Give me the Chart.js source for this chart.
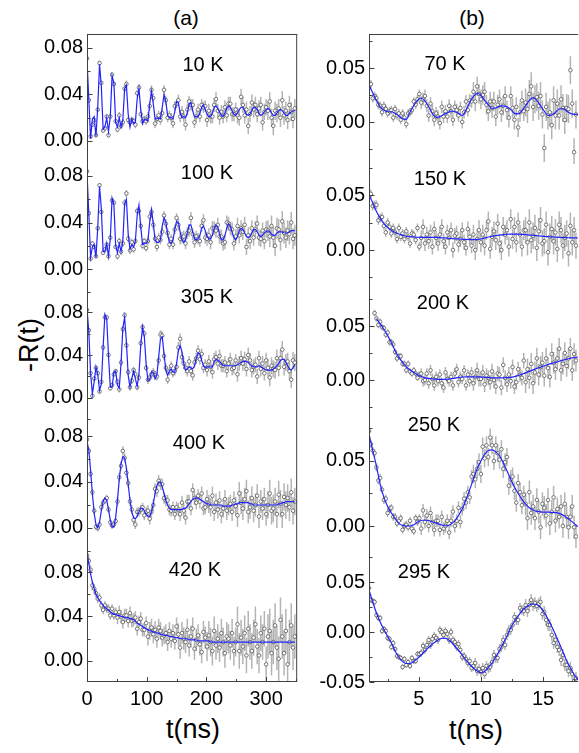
<!DOCTYPE html>
<html>
<head>
<meta charset="utf-8">
<title>-R(t)</title>
<script src="https://cdn.jsdelivr.net/npm/chart.js@4.4.1/dist/chart.umd.min.js"></script>
<style>
  html, body { margin: 0; padding: 0; background: #fff; }
  body { position: relative; width: 579px; height: 753px; overflow: hidden; font-family: "Liberation Sans", Arial, sans-serif; }
  canvas { position: absolute; }
  .t { position: absolute; transform: translate(-50%, -50%); white-space: nowrap; line-height: 1; color: #000; }
</style>
</head>
<body>
<div class="t" style="left:186px;top:17px;font-size:21px">(a)</div>
<div class="t" style="left:472px;top:17px;font-size:21px">(b)</div>
<div class="t" style="left:29px;top:345px;font-size:27px;transform:translate(-50%,-50%) rotate(-90deg)">-R(t)</div>
<div class="t" style="left:193px;top:729px;font-size:27px">t(ns)</div>
<div class="t" style="left:476px;top:730px;font-size:27px">t(ns)</div>

<script>
// time grids (ns)
var tA = Array.from({length: 117}, function(_, i) { return i * 3 })          // column (a)
var tB = Array.from({length: 112}, function(_, i) { return 1 + i * 0.15 })   // column (b) points
var tBfit = Array.from({length: 57}, function(_, i) { return 1 + i * 0.3 })  // column (b) fits

// ---- column (a): measured -R(t) and fits ----
var r10K = [.071,.035,.004,.014,.018,.005,.027,.067,.05,.009,
  .011,.021,.005,.021,.057,.049,.017,.01,.022,.013,
  .016,.045,.049,.018,.016,.018,.017,.014,.041,.046,
  .023,.017,.019,.017,.021,.03,.044,.037,.015,.019,
  .022,.018,.024,.044,.035,.02,.022,.02,.015,.03,
  .032,.035,.021,.025,.021,.014,.027,.034,.031,.031,
  .016,.021,.027,.021,.031,.029,.03,.018,.026,.021,
  .021,.031,.036,.026,.02,.025,.021,.029,.022,.032,
  .032,.023,.023,.027,.022,.02,.038,.031,.022,.027,
  .013,.023,.033,.027,.031,.023,.028,.031,.016,.025,
  .029,.026,.034,.02,.013,.026,.024,.028,.02,.035,
  .022,.026,.018,.031,.025,.019,.028]
var fit10K = [.07,.036,.002,.019,.021,.004,.029,.066,.047,.01,
  .012,.02,.008,.021,.056,.05,.016,.012,.02,.012,
  .018,.045,.048,.023,.012,.019,.015,.016,.036,.045,
  .027,.015,.019,.018,.017,.032,.043,.032,.019,.019,
  .02,.019,.029,.04,.034,.022,.02,.02,.019,.025,
  .034,.033,.024,.02,.021,.02,.024,.032,.033,.026,
  .021,.021,.021,.024,.029,.031,.027,.023,.021,.021,
  .024,.029,.03,.028,.025,.022,.021,.024,.028,.03,
  .029,.026,.023,.022,.024,.027,.029,.029,.026,.023,
  .022,.023,.026,.029,.029,.027,.024,.022,.023,.025,
  .027,.028,.027,.024,.022,.022,.024,.026,.027,.026,
  .024,.022,.022,.024,.025,.026,.026]
var err10K = [.002,.003,.004,.005,.006,.007,.008]

var r100K = [.084,.048,.009,.022,.019,.011,.035,.072,.049,.014,
  .017,.021,.011,.027,.059,.057,.019,.011,.024,.015,
  .022,.057,.065,.026,.016,.023,.017,.024,.05,.05,
  .037,.02,.024,.018,.024,.045,.049,.038,.026,.019,
  .027,.025,.032,.046,.039,.031,.021,.026,.021,.034,
  .044,.038,.026,.027,.028,.022,.031,.033,.044,.03,
  .023,.028,.026,.024,.037,.042,.027,.026,.029,.023,
  .035,.035,.033,.038,.028,.028,.022,.023,.04,.039,
  .035,.034,.022,.028,.037,.029,.035,.032,.038,.019,
  .029,.024,.035,.027,.034,.039,.027,.026,.033,.024,
  .034,.033,.028,.037,.027,.02,.035,.034,.025,.041,
  .031,.027,.033,.03,.04,.026,.029]
var fit100K = [.083,.048,.01,.019,.021,.01,.036,.071,.052,.015,
  .015,.022,.011,.026,.061,.056,.02,.014,.022,.015,
  .024,.056,.06,.03,.017,.021,.019,.024,.046,.055,
  .036,.021,.022,.022,.024,.04,.051,.039,.025,.023,
  .023,.025,.037,.044,.04,.03,.023,.022,.025,.034,
  .041,.04,.032,.025,.023,.025,.031,.038,.038,.032,
  .026,.025,.026,.029,.035,.037,.033,.028,.026,.026,
  .029,.035,.038,.036,.03,.025,.025,.029,.035,.039,
  .037,.032,.027,.025,.028,.033,.035,.034,.031,.028,
  .027,.028,.031,.034,.034,.032,.029,.028,.029,.031,
  .032,.033,.032,.03,.029,.029,.031,.032,.032,.032,
  .031,.031,.031,.032,.033,.033,.033]
var err100K = [.002,.003,.004,.005,.006,.007,.009]

var r305K = [.082,.063,.023,.002,.018,.028,.023,.006,.015,.047,
  .075,.075,.04,.009,.012,.022,.025,.015,.008,.033,
  .064,.077,.049,.024,.01,.016,.026,.022,.01,.019,
  .051,.066,.06,.028,.017,.019,.022,.024,.021,.02,
  .035,.059,.058,.039,.028,.017,.025,.03,.023,.025,
  .029,.047,.055,.038,.032,.028,.025,.034,.025,.021,
  .033,.037,.044,.036,.041,.028,.031,.026,.034,.029,
  .024,.036,.038,.032,.039,.03,.03,.033,.025,.032,
  .036,.027,.028,.035,.022,.032,.037,.032,.036,.027,
  .04,.035,.026,.029,.031,.02,.037,.027,.032,.023,
  .035,.028,.019,.03,.027,.026,.037,.028,.037,.045,
  .029,.033,.034,.025,.017,.035,.033]
var fit305K = [.083,.062,.023,.004,.015,.029,.022,.007,.013,.047,
  .078,.074,.039,.01,.01,.024,.025,.012,.009,.032,
  .065,.075,.052,.021,.01,.018,.025,.018,.011,.022,
  .049,.066,.057,.032,.016,.017,.024,.024,.018,.021,
  .038,.055,.057,.041,.026,.021,.025,.027,.024,.024,
  .032,.044,.049,.043,.032,.026,.027,.029,.028,.027,
  .03,.037,.042,.041,.035,.03,.028,.029,.029,.029,
  .029,.034,.036,.035,.034,.032,.03,.03,.03,.03,
  .03,.03,.03,.03,.031,.032,.033,.034,.034,.034,
  .033,.031,.03,.029,.029,.029,.03,.029,.028,.027,
  .026,.026,.026,.026,.027,.028,.03,.032,.035,.036,
  .036,.033,.03,.027,.026,.028,.031]
var err305K = [.002,.003,.004,.005,.006,.007,.008]

var r400K = [.077,.067,.047,.031,.015,.001,0,.003,.018,.022,
  .024,.026,.016,.005,.002,.003,.006,.023,.044,.054,
  .067,.061,.048,.039,.023,.016,.007,.003,.014,.014,
  .016,.018,.011,.014,.015,.008,.014,.02,.034,.032,
  .041,.038,.038,.026,.024,.024,.016,.015,.018,.012,
  .018,.016,.012,.022,.015,.009,.023,.023,.017,.033,
  .026,.022,.028,.023,.03,.017,.018,.025,.021,.018,
  .028,.014,.022,.016,.024,.012,.017,.025,.015,.019,
  .021,.014,.024,.019,.011,.03,.022,.017,.025,.032,
  .014,.018,.026,.015,.02,.028,.01,.023,.017,.025,
  .012,.02,.03,.015,.017,.023,.012,.029,.021,.012,
  .027,.02,.026,.018,.031,.015,.023]
var fit400K = [.075,.068,.05,.03,.013,.003,0,.005,.015,.023,
  .026,.024,.016,.007,.001,.001,.009,.024,.042,.056,
  .062,.061,.052,.038,.024,.014,.009,.008,.01,.014,
  .017,.017,.015,.012,.01,.01,.014,.021,.03,.037,
  .04,.04,.036,.03,.024,.02,.017,.016,.016,.016,
  .016,.016,.016,.016,.017,.017,.019,.021,.023,.025,
  .026,.026,.026,.025,.024,.023,.022,.021,.021,.02,
  .02,.02,.02,.02,.02,.02,.019,.019,.019,.019,
  .019,.02,.02,.021,.021,.022,.022,.022,.022,.022,
  .022,.021,.021,.02,.02,.02,.02,.02,.02,.02,
  .02,.02,.02,.02,.02,.02,.02,.021,.021,.022,
  .022,.023,.023,.023,.023,.023,.023]
var err400K = [.003,.004,.005,.006,.008,.01,.012]

var r420K = [.095,.09,.082,.068,.065,.061,.056,.057,.05,.046,
  .05,.047,.047,.041,.047,.041,.044,.039,.044,.04,
  .035,.041,.041,.036,.043,.036,.037,.039,.029,.035,
  .038,.028,.028,.034,.022,.027,.03,.024,.028,.02,
  .03,.027,.021,.023,.025,.017,.027,.02,.025,.018,
  .031,.024,.012,.025,.02,.017,.028,.014,.022,.029,
  .011,.019,.023,.015,.008,.026,.021,.013,.023,.017,
  .009,.027,.014,.02,.012,.025,.017,.007,.022,.02,
  .014,.025,.009,.017,.033,.009,.021,.013,.025,.005,
  .029,.017,.009,.021,.033,.013,.005,.025,.017,.029,
  -.003,.022,.027,.007,.017,.032,.012,.002,.037,.022,
  .007,.027,-.003,.017,.032,.012,.022]
var fit420K = [.097,.088,.078,.071,.065,.06,.057,.054,.052,.05,
  .048,.047,.046,.044,.043,.042,.042,.041,.041,.04,
  .04,.039,.039,.039,.038,.038,.037,.036,.034,.033,
  .032,.031,.03,.029,.028,.027,.027,.026,.026,.025,
  .025,.024,.024,.023,.023,.023,.022,.022,.022,.021,
  .021,.021,.02,.02,.02,.02,.02,.019,.019,.019,
  .019,.019,.018,.018,.018,.018,.018,.018,.018,.017,
  .017,.017,.017,.017,.017,.017,.017,.017,.017,.017,
  .017,.017,.017,.017,.017,.017,.017,.017,.017,.017,
  .017,.017,.017,.017,.017,.017,.017,.017,.017,.017,
  .017,.017,.017,.017,.017,.017,.017,.017,.017,.017,
  .017,.017,.017,.017,.017,.017,.017]
var err420K = [.004,.006,.008,.01,.013,.016,.02]

// ---- column (b) ----
var r70K = [.033,.035,.022,.024,.022,.016,.015,.009,.015,.012,
  .008,.01,.011,.004,.012,.006,.008,.002,.008,.004,
  -.002,.008,.009,.011,.019,.016,.021,.026,.018,.021,
  .024,.015,.006,.017,.01,.002,.008,.005,-.001,.014,
  .005,.01,.005,.015,.01,.002,.014,.011,.006,.013,
  0,.009,.019,.011,.02,.019,.028,.019,.033,.026,
  .021,.025,.028,.016,.01,.019,.013,.019,.005,.016,
  .021,.009,.015,.024,.011,.004,.024,.013,.002,.014,
  -.005,.009,.02,.01,.018,.012,.026,.033,.014,.021,
  .023,.015,.024,.007,-.024,.014,.006,.009,-.003,.02,
  .006,.017,.006,.021,.013,.002,.013,.012,.048,.017,
  -.028,.007]
var fit70K = [.034,.027,.02,.014,.011,.0095,.0095,.008,.0055,.003,
  .0025,.009,.015,.02,.022,.0195,.014,.008,.0043,.005,
  .007,.0085,.01,.0095,.008,.006,.011,.018,.0235,.0265,
  .025,.02,.016,.0127,.013,.0145,.015,.014,.0115,.008,
  .0075,.0105,.015,.02,.0225,.02,.015,.01,.006,.0065,
  .009,.012,.0125,.01,.008,.007,.007]
var err70K = [.004,.006,.009,.013]

var r150K = [.048,.051,.04,.041,.041,.027,.029,.03,.022,.016,
  .025,.021,.015,.02,.016,.01,.02,.012,.015,.01,
  .017,.012,.006,.015,.014,.009,.02,.003,.011,.021,
  .006,.014,.008,.016,.003,.019,.011,.006,.014,.021,
  .008,.003,.016,.011,.018,0,.013,.015,.005,.01,
  .018,.007,.002,.019,.012,.004,.014,0,.01,.018,
  .007,.014,.004,.018,.026,.001,.012,.017,.009,.024,
  .006,0,.021,.014,.018,.003,.028,.01,.021,.007,
  .025,.014,.003,.018,.018,.007,.025,.009,.013,.02,
  .002,.017,.027,.006,.008,.023,-.002,.012,.019,.008,
  .016,.001,.023,.018,.004,.011,.015,-.003,.022,.007,
  .018,.004]
var fit150K = [.05,.043,.035,.029,.024,.0205,.018,.016,.0145,.0135,
  .0125,.012,.0118,.0116,.0115,.0115,.0115,.0115,.0114,.0112,
  .011,.0108,.0105,.0102,.01,.0098,.0096,.0095,.0095,.0096,
  .01,.0108,.0118,.0125,.013,.0135,.014,.0143,.0145,.0145,
  .0144,.0142,.014,.0136,.0133,.013,.0127,.0124,.0121,.0119,
  .0117,.0115,.0113,.0112,.0111,.011,.011]
var err150K = [.004,.007,.009,.012]

var r200K = [null,null,null,.062,.057,.051,.054,.049,.048,.042,
  .044,.035,.035,.033,.026,.02,.022,.022,.015,.015,
  .009,.015,.008,.006,.009,.006,.002,.005,.006,-.001,
  0,.006,-.003,.009,.001,-.005,.003,-.001,.005,-.003,
  -.007,.007,.001,-.001,.003,-.005,.006,.01,-.002,.003,
  .001,.009,-.005,.005,-.001,.007,-.003,.003,.009,.001,
  .001,.007,-.004,.004,.002,-.002,.008,0,-.006,.006,
  .005,-.007,.014,.002,-.004,.005,-.001,.012,-.006,-.002,
  .01,.005,.002,.018,-.002,.01,.002,.015,-.003,.007,
  .02,.005,.012,.016,.004,.02,.011,.003,.024,.016,
  .01,.02,.029,.009,.015,.025,.013,.02,.029,.009,
  .024,.018]
var fit200K = [null,null,.057,.052,.047,.041,.035,.027,.021,.0165,
  .0123,.0093,.007,.005,.0032,.002,.0015,.0011,.0008,.0006,
  .0006,.0008,.0012,.0018,.0024,.0028,.003,.003,.003,.003,
  .0028,.0025,.0022,.002,.002,.002,.002,.0022,.0025,.0032,
  .0042,.0054,.0066,.008,.0094,.0108,.012,.0132,.0143,.0154,
  .0164,.0174,.0184,.0194,.0202,.0208,.0212]
var err200K = [.003,.005,.007,.01]

var r250K = [.073,.063,.058,.056,.045,.035,.037,.028,.02,.021,
  .01,.013,.014,.007,.007,.002,.004,.006,-.003,0,
  .001,-.001,.004,-.002,-.004,.006,.003,.006,-.002,.012,
  .003,.008,0,.01,.003,-.003,.004,.004,-.003,.007,
  -.002,0,.004,-.005,.004,.011,0,.004,.014,.003,
  .013,.021,.018,.026,.022,.038,.04,.036,.044,.049,
  .04,.061,.052,.062,.053,.068,.062,.05,.062,.056,
  .051,.059,.044,.049,.053,.031,.036,.038,.027,.018,
  .033,.026,.016,.024,.017,.006,.026,.01,.015,.006,
  .02,.011,-.001,.017,.014,.008,.02,.002,.011,.022,
  .004,.013,.007,.015,0,.017,.007,-.001,.007,.015,
  -.001,-.008]
var fit250K = [.071,.058,.046,.032,.022,.015,.01,.006,.002,.0005,
  0,0,.001,.0028,.0042,.0046,.0042,.0032,.0022,.0012,
  .0004,.0002,.0015,.004,.008,.013,.02,.028,.036,.044,
  .05,.055,.058,.0585,.057,.054,.0485,.0425,.036,.03,
  .025,.0205,.0168,.014,.0123,.0113,.0108,.0106,.0106,.0105,
  .0103,.0097,.0085,.0065,.0043,.002,-.0005]
var err250K = [.003,.005,.007,.009]

var r295K = [.044,.032,.031,.03,.017,.014,.014,.001,.003,.001,
  -.006,-.007,-.015,-.011,-.017,-.024,-.025,-.026,-.035,-.027,
  -.033,-.03,-.034,-.026,-.029,-.029,-.022,-.022,-.021,-.014,
  -.018,-.013,-.008,-.013,-.007,-.004,-.006,-.008,.002,0,
  -.003,.001,-.002,-.008,0,-.008,-.01,-.015,-.012,-.018,
  -.025,-.024,-.027,-.031,-.029,-.036,-.034,-.031,-.039,-.037,
  -.04,-.036,-.042,-.034,-.036,-.035,-.03,-.023,-.026,-.026,
  -.017,-.015,-.008,-.013,-.003,.002,.002,.007,.015,.012,
  .012,.024,.022,.021,.027,.021,.027,.032,.027,.029,
  .026,.028,.03,.018,.02,.012,.007,.007,-.003,-.011,
  -.008,-.015,-.018,-.028,-.023,-.033,-.033,-.039,-.036,-.042,
  -.049,-.046]
var fit295K = [.042,.03,.019,.01,.0025,-.0045,-.011,-.019,-.025,-.0295,
  -.0315,-.0315,-.0295,-.0265,-.023,-.019,-.0155,-.012,-.0095,-.007,
  -.0062,-.007,-.01,-.014,-.0185,-.023,-.028,-.0325,-.036,-.039,
  -.0405,-.0395,-.0355,-.031,-.025,-.0185,-.0115,-.004,.004,.0105,
  .016,.021,.0245,.027,.028,.0275,.0245,.0195,.013,.0055,
  -.0025,-.011,-.02,-.0285,-.036,-.0425,-.048]
var err295K = [.003,.004,.005,.006]

// ---- layout ----
var FONT = '"Liberation Sans", Arial, sans-serif'
var BLUE = '#2222ff'
var PAD = 20
var AREA_TOP = [34, 164, 293, 423, 552]
var AREA_BOTTOM = 682

var colA = { left: 0, axisW: 87, right: 300, xMin: 0, xMax: 352,
  xMajor: [0, 100, 200, 300], xMinor: [50, 150, 250, 350], smooth: false, rightBorder: true }
var colB = { left: 282, axisW: 87, right: 581, xMin: 1, xMax: 17.83,
  xMajor: [5, 10, 15], xMinor: [2.5, 7.5, 12.5, 17.5], smooth: true, rightBorder: false }

var majA = [0, 0.04, 0.08], minA = [-0.02, 0.02, 0.06]
var majB = [0, 0.05], minB = [-0.025, 0.025, 0.075]

var panelsA = [
  { label: '10 K', lx: 203, ly: 64, t: tA, r: r10K, ft: tA, fit: fit10K, err: err10K, yMin: -0.0198, yMax: 0.092 },
  { label: '100 K', lx: 207, ly: 172, t: tA, r: r100K, ft: tA, fit: fit100K, err: err100K, yMin: -0.0206, yMax: 0.0903 },
  { label: '305 K', lx: 207, ly: 296, t: tA, r: r305K, ft: tA, fit: fit305K, err: err305K, yMin: -0.0233, yMax: 0.0977 },
  { label: '400 K', lx: 199, ly: 442, t: tA, r: r400K, ft: tA, fit: fit400K, err: err400K, yMin: -0.0209, yMax: 0.0913 },
  { label: '420 K', lx: 195, ly: 569, t: tA, r: r420K, ft: tA, fit: fit420K, err: err420K, yMin: -0.0189, yMax: 0.098 }
]
var panelsB = [
  { label: '70 K', lx: 445, ly: 63, t: tB, r: r70K, ft: tBfit, fit: fit70K, err: err70K, yMin: -0.0389, yMax: 0.0815 },
  { label: '150 K', lx: 440, ly: 178, t: tB, r: r150K, ft: tBfit, fit: fit150K, err: err150K, yMin: -0.0391, yMax: 0.0782 },
  { label: '200 K', lx: 443, ly: 302, t: tB, r: r200K, ft: tBfit, fit: fit200K, err: err200K, yMin: -0.0398, yMax: 0.0806 },
  { label: '250 K', lx: 434, ly: 424, t: tB, r: r250K, ft: tBfit, fit: fit250K, err: err250K, yMin: -0.02, yMax: 0.0792 },
  { label: '295 K', lx: 424, ly: 571, t: tB, r: r295K, ft: tBfit, fit: fit295K, err: err295K, yMin: -0.05, yMax: 0.08, yMajor: [-0.05, 0, 0.05] }
]

// error bars under the points, frame and inward ticks on top
function framePlugin(cfg) {
  return {
    id: 'frame',
    beforeDatasetsDraw: function(chart) {
      var ctx = chart.ctx, a = chart.chartArea, x = chart.scales.x, y = chart.scales.y
      ctx.save()
      ctx.beginPath()
      ctx.rect(a.left, a.top, a.right - a.left, a.bottom - a.top)
      ctx.clip()
      ctx.strokeStyle = '#b4b4b4'
      ctx.lineWidth = 1.5
      ctx.beginPath()
      cfg.t.forEach(function(t, i) {
        var v = cfg.r[i]
        if (v === null) return
        var e = cfg.err[Math.min(cfg.err.length - 1, Math.floor(i * cfg.err.length / cfg.t.length))]
        var px = x.getPixelForValue(t)
        ctx.moveTo(px, y.getPixelForValue(v + e))
        ctx.lineTo(px, y.getPixelForValue(v - e))
      })
      ctx.stroke()
      ctx.restore()
    },
    afterDraw: function(chart) {
      var ctx = chart.ctx, a = chart.chartArea, x = chart.scales.x, y = chart.scales.y
      var L = a.left + 0.5
      ctx.save()
      ctx.strokeStyle = '#404040'
      ctx.lineWidth = 1
      ctx.beginPath()
      ctx.moveTo(L, a.top); ctx.lineTo(L, a.bottom)
      if (cfg.top) { ctx.moveTo(a.left, a.top + 0.5); ctx.lineTo(a.right, a.top + 0.5) }
      if (cfg.right) { ctx.moveTo(a.right - 0.5, a.top); ctx.lineTo(a.right - 0.5, a.bottom) }
      if (cfg.bottom) { ctx.moveTo(a.left, a.bottom - 0.5); ctx.lineTo(a.right, a.bottom - 0.5) }
      function yt(v, len) {
        if (v < cfg.yMin || v > cfg.yMax) return
        var py = Math.round(y.getPixelForValue(v)) + 0.5
        ctx.moveTo(L, py); ctx.lineTo(L + len, py)
      }
      cfg.yMajor.forEach(function(v) { yt(v, 5) })
      cfg.yMinor.forEach(function(v) { yt(v, 3) })
      if (cfg.bottom) {
        cfg.xMajor.concat(cfg.xMinor).forEach(function(v, i) {
          if (v < x.min || v > x.max) return
          var px = Math.round(x.getPixelForValue(v)) + 0.5
          ctx.moveTo(px, a.bottom); ctx.lineTo(px, a.bottom - (i < cfg.xMajor.length ? 5 : 3))
        })
      }
      ctx.stroke()
      ctx.restore()
    }
  }
}

function addPanel(col, row, p, yMajor, yMinor) {
  var last = row === 4
  var top = AREA_TOP[row]
  var bottom = last ? AREA_BOTTOM : AREA_TOP[row + 1]
  var w = col.right - col.left + 2
  var h = PAD + (bottom - top) + (last ? 45 : PAD)
  var c = document.createElement('canvas')
  c.width = w; c.height = h
  c.style.left = col.left + 'px'; c.style.top = (top - PAD) + 'px'
  c.style.width = w + 'px'; c.style.height = h + 'px'
  document.body.appendChild(c)

  var lab = document.createElement('div')
  lab.className = 't'
  lab.style.left = p.lx + 'px'; lab.style.top = p.ly + 'px'; lab.style.fontSize = '20px'
  lab.textContent = p.label
  document.body.appendChild(lab)

  var major = p.yMajor || yMajor
  var cfg = { t: p.t, r: p.r, err: p.err, yMin: p.yMin, yMax: p.yMax,
    yMajor: major, yMinor: yMinor, xMajor: col.xMajor, xMinor: col.xMinor,
    top: row === 0, bottom: last, right: col.rightBorder }

  new Chart(c, {
    type: 'line',
    data: {
      datasets: [
        { data: p.ft.map(function(t, i) { return { x: t, y: p.fit[i] } }),
          borderColor: BLUE, borderWidth: 1.2, pointRadius: 0, fill: false,
          tension: 0, cubicInterpolationMode: col.smooth ? 'monotone' : 'default', order: 0 },
        { data: p.t.map(function(t, i) { return { x: t, y: p.r[i] } }),
          showLine: false, pointStyle: 'circle', pointRadius: 1.8, pointBorderWidth: 0.8,
          pointBorderColor: '#555555', pointBackgroundColor: '#ffffff', order: 1 }
      ]
    },
    options: {
      responsive: false, animation: false, events: [], devicePixelRatio: 1,
      layout: { padding: { top: PAD, bottom: last ? 0 : PAD, left: 0, right: 2 } },
      plugins: { legend: { display: false }, tooltip: { enabled: false } },
      scales: {
        x: {
          type: 'linear', min: col.xMin, max: col.xMax, display: last,
          grid: { display: false, drawTicks: false }, border: { display: false },
          ticks: { color: '#000', font: { family: FONT, size: 20 }, padding: 5, maxRotation: 0, autoSkip: false,
            callback: function(v) { return String(v) } },
          afterBuildTicks: function(s) { s.ticks = col.xMajor.map(function(v) { return { value: v } }) },
          afterFit: function(s) { if (last) s.height = 45 }
        },
        y: {
          type: 'linear', min: p.yMin, max: p.yMax,
          grid: { display: false, drawTicks: false }, border: { display: false },
          ticks: { color: '#000', font: { family: FONT, size: 20 }, padding: 4, autoSkip: false,
            callback: function(v) { return v.toFixed(2) } },
          afterBuildTicks: function(s) { s.ticks = major.map(function(v) { return { value: v } }) },
          afterFit: function(s) { s.width = col.axisW }
        }
      }
    },
    plugins: [framePlugin(cfg)]
  })
}

panelsA.forEach(function(p, i) { addPanel(colA, i, p, majA, minA) })
panelsB.forEach(function(p, i) { addPanel(colB, i, p, majB, minB) })
</script>
</body>
</html>
